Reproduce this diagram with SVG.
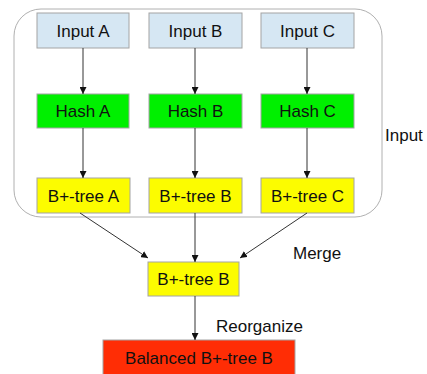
<svg xmlns="http://www.w3.org/2000/svg" width="427" height="374" viewBox="0 0 427 374">
  <defs>
    <marker id="arrow" viewBox="0 0 10 10" refX="10" refY="5" markerWidth="7" markerHeight="7" orient="auto" markerUnits="userSpaceOnUse">
      <path d="M0,0 L10,5 L0,10 z" fill="#111"/>
    </marker>
    <style>
      text { font-family: "Liberation Sans", Arial, sans-serif; font-size: 17px; fill: #111; }
      .lbl { text-anchor: middle; }
      .box { stroke: #a4a4a4; stroke-width: 1; }
      .input { fill: #d6e7f3; }
      .hash { fill: #00f000; }
      .tree { fill: #fcfc00; }
      .bal { fill: #ff2d05; }
      .edge { stroke: #333; stroke-width: 1; fill: none; marker-end: url(#arrow); }
    </style>
  </defs>
  <rect width="427" height="374" fill="#fff"/>

  <!-- input stage container -->
  <rect x="14" y="9" width="368" height="208" rx="27" ry="27" fill="none" stroke="#b0b0b0" stroke-width="1"/>

  <g id="inputA"><rect class="box input" x="37" y="13" width="92" height="35"/><text class="lbl" x="83" y="36.5">Input A</text></g>
  <g id="inputB"><rect class="box input" x="149" y="13" width="93" height="35"/><text class="lbl" x="195.5" y="36.5">Input B</text></g>
  <g id="inputC"><rect class="box input" x="261" y="13" width="93" height="35"/><text class="lbl" x="307.5" y="36.5">Input C</text></g>

  <g id="hashA"><rect class="box hash" x="37" y="94" width="92" height="34"/><text class="lbl" x="83" y="117">Hash A</text></g>
  <g id="hashB"><rect class="box hash" x="149" y="94" width="93" height="34"/><text class="lbl" x="195.5" y="117">Hash B</text></g>
  <g id="hashC"><rect class="box hash" x="261" y="94" width="93" height="34"/><text class="lbl" x="307.5" y="117">Hash C</text></g>

  <g id="treeA"><rect class="box tree" x="37" y="178" width="93" height="35"/><text class="lbl" x="83.5" y="201.5">B+-tree A</text></g>
  <g id="treeB"><rect class="box tree" x="149" y="178" width="93" height="35"/><text class="lbl" x="195.5" y="201.5">B+-tree B</text></g>
  <g id="treeC"><rect class="box tree" x="261" y="178" width="93" height="35"/><text class="lbl" x="307.5" y="201.5">B+-tree C</text></g>

  <g id="merged"><rect class="box tree" x="148" y="262" width="91" height="34"/><text class="lbl" x="193.5" y="285">B+-tree B</text></g>

  <g id="balanced"><rect class="box bal" x="103" y="340" width="192" height="36"/><text class="lbl" x="199" y="364">Balanced B+-tree B</text></g>

  <g id="labels">
    <text x="385" y="141">Input</text>
    <text x="293" y="259">Merge</text>
    <text x="216" y="332">Reorganize</text>
  </g>

  <g id="connectors">
    <line class="edge" x1="83" y1="48" x2="83" y2="94"/>
    <line class="edge" x1="195" y1="48" x2="195" y2="94"/>
    <line class="edge" x1="307" y1="48" x2="307" y2="94"/>
    <line class="edge" x1="83" y1="128" x2="83" y2="178"/>
    <line class="edge" x1="195" y1="128" x2="195" y2="178"/>
    <line class="edge" x1="307" y1="128" x2="307" y2="178"/>
    <line class="edge" x1="80" y1="213" x2="148" y2="258"/>
    <line class="edge" x1="195" y1="213" x2="195" y2="262"/>
    <line class="edge" x1="307" y1="213" x2="240" y2="258"/>
    <line class="edge" x1="195" y1="296" x2="195" y2="340"/>
  </g>
</svg>
